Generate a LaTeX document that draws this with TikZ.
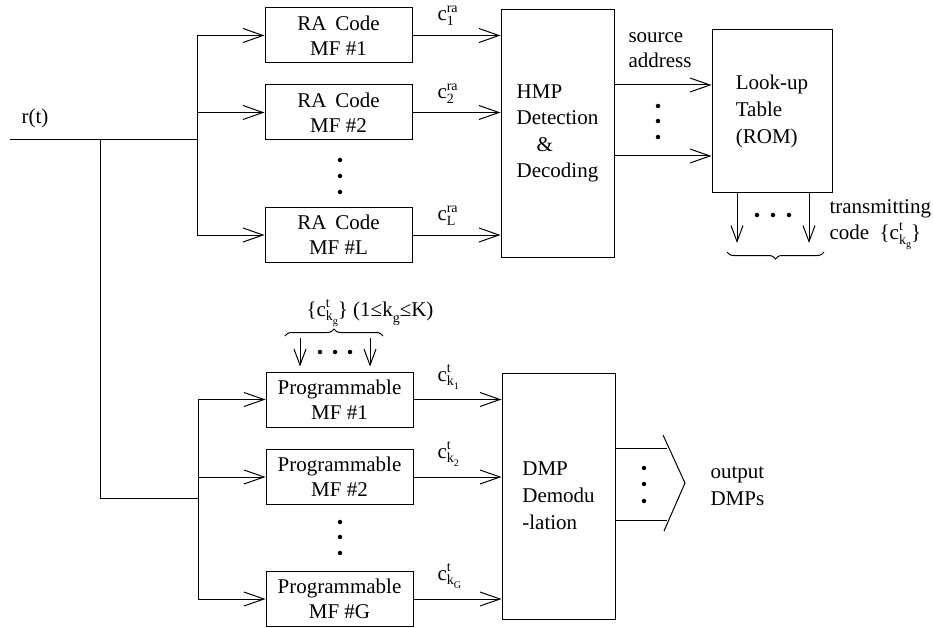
\documentclass[tikz,border=0pt]{standalone}
\usepackage{fontspec}
\setmainfont{Liberation Serif}
\usetikzlibrary{arrows.meta,decorations.pathreplacing}
\newcommand\cl[2]{c\rlap{\raisebox{0.42em}{\fontsize{14}{14}\selectfont #2}}\raisebox{-0.22em}{\fontsize{14}{14}\selectfont #1}}
\newcommand\kk[1]{k\raisebox{-0.25em}{\fontsize{10}{10}\selectfont #1}}
\newcommand\ks[1]{k\raisebox{-0.3em}{\fontsize{14}{14}\selectfont #1}}
\begin{document}
\begin{tikzpicture}[x=1pt,y=-1pt, line width=1pt,
  every node/.style={font=\fontsize{21}{25}\selectfont, inner sep=0pt},
  blk/.style={draw, minimum width=147pt, minimum height=55pt, align=center},
  arr/.style={-{Straight Barb[length=20pt,width=14pt]}},
  darr/.style={-{Straight Barb[length=16pt,width=12pt]}},
  dotc/.style={circle, fill, minimum size=4.5pt, inner sep=0pt},
  lab/.style={anchor=base west},
  brc/.style={decorate, decoration={brace, amplitude=7pt}}]
\useasboundingbox (0,0) rectangle (933,628);

% blocks
\node[blk] (ra1) at (338.5,35.5) {RA~\,Code\\MF \#1};
\node[blk] (ra2) at (338.5,112.5) {RA~\,Code\\MF \#2};
\node[blk] (ral) at (338.5,235) {RA~\,Code\\MF \#L};
\node[blk] (p1) at (339.5,399.5) {Programmable\\MF \#1};
\node[blk] (p2) at (339.5,477) {Programmable\\MF \#2};
\node[blk] (pg) at (339.5,599) {Programmable\\MF \#G};
\node[draw, minimum width=113pt, minimum height=247pt, align=left,
      font=\fontsize{21}{26.5}\selectfont] (hmp) at (557.5,133.5)
      {HMP\\Detection\\\hspace*{0.95em}\&\\Decoding};
\node[draw, minimum width=120pt, minimum height=163pt, align=left,
      font=\fontsize{21}{27}\selectfont] (lut) at (772,111.5)
      {Look-up\\Table\\(ROM)};
\node[draw, minimum width=113pt, minimum height=246pt, align=left,
      font=\fontsize{21}{27}\selectfont] (dmp) at (558.5,496)
      {DMP\\Demodu\\-lation};

% input and buses
\node (rt) at (35,118) {r(t)};
\coordinate (in) at (10,140);
\coordinate (j) at (100,140);
\coordinate (tb) at (197,140);
\coordinate (jb) at (100,498);
\coordinate (bb) at (198,498);
\draw (in) -- (tb);
\draw (tb |- ra1) -- (tb |- ral);
\draw[arr] (tb |- ra1) -- (ra1.west);
\draw[arr] (tb |- ra2) -- (ra2.west);
\draw[arr] (tb |- ral) -- (ral.west);
\draw (j) -- (jb) -- (bb);
\draw (bb |- p1) -- (bb |- pg);
\draw[arr] (bb |- p1) -- (p1.west);
\draw[arr] (bb |- p2) -- (p2.west);
\draw[arr] (bb |- pg) -- (pg.west);

% vertical dots
\foreach \y [count=\i] in {160,176,192} \node[dotc] (rd\i) at (340,\y) {};
\foreach \y [count=\i] in {522,537,553} \node[dotc] (pd\i) at (340,\y) {};

% MF outputs
\draw[arr] (ra1.east) -- (ra1.east -| hmp.west);
\draw[arr] (ra2.east) -- (ra2.east -| hmp.west);
\draw[arr] (ral.east) -- (ral.east -| hmp.west);
\draw[arr] (p1.east) -- (p1.east -| dmp.west);
\draw[arr] (p2.east) -- (p2.east -| dmp.west);
\draw[arr] (pg.east) -- (pg.east -| dmp.west);
\node[lab] (c1) at (437,21) {\cl{1}{ra}};
\node[lab] (c2) at (437,99) {\cl{2}{ra}};
\node[lab] (cL) at (437,221) {\cl{L}{ra}};
\node[lab] (k1) at (437,381) {\cl{\kk{1}}{t}};
\node[lab] (k2) at (437,458) {\cl{\kk{2}}{t}};
\node[lab] (kG) at (437,580) {\cl{\kk{G}}{t}};

% HMP -> LUT
\coordinate (ha) at (660,85);
\coordinate (hb) at (660,156);
\draw[arr] (hmp.east |- ha) -- (lut.west |- ha);
\draw[arr] (hmp.east |- hb) -- (lut.west |- hb);
\foreach \y [count=\i] in {106,121,137} \node[dotc] (hd\i) at (658,\y) {};
\node[anchor=west, align=left] (src) at (628,50) {source\\address};

% LUT outputs
\coordinate (la) at (737,243);
\coordinate (lb) at (809,243);
\draw[darr] (lut.south -| la) -- (la);
\draw[darr] (lut.south -| lb) -- (lb);
\foreach \x [count=\i] in {757,773,789} \node[dotc] (ld\i) at (\x,215) {};
\draw[brc] (824,252) -- (727,252);
\node[anchor=west, align=left, font=\fontsize{21}{26}\selectfont] (tx) at (829,225)
  {transmitting\\code~~\{\cl{\kk{g}}{t}\}};

% programmable inputs
\coordinate (pa) at (300,338);
\coordinate (pb) at (370,338);
\draw[darr, shorten >=5pt] (pa) -- (pa |- p1.north);
\draw[darr, shorten >=5pt] (pb) -- (pb |- p1.north);
\foreach \x [count=\i] in {320,335,350} \node[dotc] (td\i) at (\x,352) {};
\draw[brc] (285,336) -- (383,336);
\node[anchor=west] (klab) at (306,313) {\{\cl{\kk{g}}{t}\}~(1≤\ks{g}≤K)};

% DMP outputs
\coordinate (da) at (667,448);
\coordinate (db) at (667,520);
\draw (dmp.east |- da) -- (da);
\draw (dmp.east |- db) -- (db);
\foreach \y [count=\i] in {468,484,501} \node[dotc] (dd\i) at (644,\y) {};
\coordinate (ch1) at (663,435);
\coordinate (ch2) at (685,483);
\coordinate (ch3) at (664,531);
\draw (ch1) -- (ch2) -- (ch3);
\node[anchor=west, align=left, font=\fontsize{21}{27}\selectfont] (outl) at (710,486) {output\\DMPs};
\end{tikzpicture}
\end{document}
